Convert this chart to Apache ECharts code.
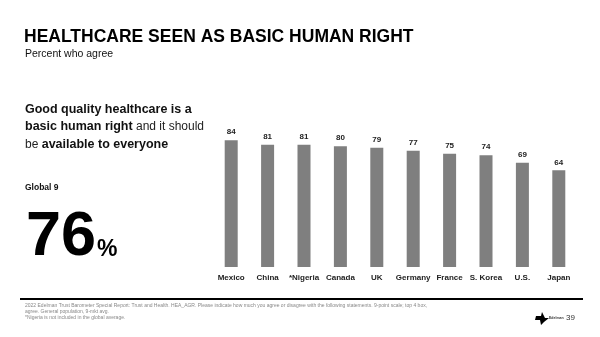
<!DOCTYPE html>
<html><head><meta charset="utf-8">
<script src="https://cdn.jsdelivr.net/npm/echarts@6/dist/echarts.min.js"></script>
<style>html,body{margin:0;padding:0;background:#fff}#c{width:600px;height:337px}</style>
</head><body><div id="c"></div>
<script>
const categories = ['Mexico','China','*Nigeria','Canada','UK','Germany','France','S. Korea','U.S.','Japan'];
const values = [84,81,81,80,79,77,75,74,69,64];
const titleText = 'HEALTHCARE SEEN AS BASIC HUMAN RIGHT';
const subtitleText = 'Percent who agree';
const globalLabel = 'Global 9';
const globalValue = '76';

const F = 'Liberation Sans, Arial, sans-serif';
const chart = echarts.init(document.getElementById('c'));
chart.setOption({
  animation:false,
  grid:{left:213,right:23,top:116,bottom:70},
  xAxis:{type:'category',data:categories,
    axisLine:{show:false},axisTick:{show:false},
    axisLabel:{fontFamily:F,fontSize:8,fontWeight:'bold',color:'#222',margin:7,interval:0}},
  yAxis:{type:'value',min:0,max:100,show:false,splitLine:{show:false}},
  series:[{type:'bar',data:values,barWidth:13,itemStyle:{color:'#7f7f7f'},
    label:{show:true,position:'top',distance:4,fontFamily:F,fontSize:8,fontWeight:'bold',color:'#222'}}],
  graphic:[
    {type:'text',left:24,top:28,style:{text:titleText,fontFamily:F,fontSize:17.5,fontWeight:'bold',fill:'#000'}},
    {type:'text',left:25,top:49,style:{text:subtitleText,fontFamily:F,fontSize:10.5,fill:'#111'}},
    {type:'text',left:25,top:103,style:{
      rich:{b:{fontFamily:F,fontSize:12.5,fontWeight:'bold',fill:'#111',lineHeight:17.5},
            n:{fontFamily:F,fontSize:12,fill:'#222',lineHeight:17.5}},
      text:'{b|Good quality healthcare is a}\n{b|basic human right} {n|and it should}\n{n|be} {b|available to everyone}'}},
    {type:'text',left:25,top:183,style:{text:globalLabel,fontFamily:F,fontSize:8.5,fontWeight:'bold',fill:'#111'}},
    {type:'text',left:26,top:206,style:{text:globalValue,fontFamily:F,fontSize:63,fontWeight:'bold',fill:'#000'}},
    {type:'text',left:97,top:238,style:{text:'%',fontFamily:F,fontSize:23,fontWeight:'bold',fill:'#000'}},
    {type:'rect',shape:{x:20,y:298,width:563,height:2},style:{fill:'#000'}},
    {type:'text',left:25,top:303,style:{
      text:'2022 Edelman Trust Barometer Special Report: Trust and Health. HEA_AGR. Please indicate how much you agree or disagree with the following statements. 9-point scale; top 4 box,\nagree. General population, 9-mkt avg.\n*Nigeria is not included in the global average.',
      fontFamily:F,fontSize:5,lineHeight:6,fill:'#888'}},
    {type:'polygon',shape:{points:[[536,316],[541,316],[542,312],[545,318],[549,318],[544,322],[541,325],[540,320],[535,320]]},style:{fill:'#000'}},
    {type:'text',left:549,top:316,style:{text:'Edelman',fontFamily:F,fontSize:3.5,fontWeight:'bold',fill:'#333'}},
    {type:'text',left:566,top:314,style:{text:'39',fontFamily:F,fontSize:8,fill:'#333'}}
  ]
});
</script></body></html>
